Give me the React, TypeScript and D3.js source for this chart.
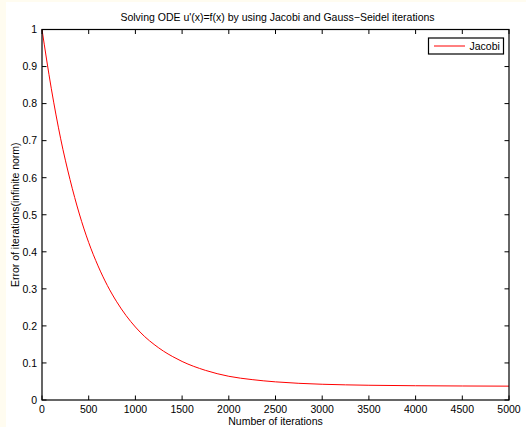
import React from "react";
import * as d3 from "d3";

// Iteration counts where the error was sampled
const iterations = [
  0, 100, 200, 300, 400, 500, 600, 700, 800, 900, 1000, 1100, 1200, 1300, 1400,
  1500, 1750, 2000, 2250, 2500, 2750, 3000, 3500, 4000, 4500, 5000,
];
// Infinity-norm error of the Jacobi iterates
const jacobiError = [
  1.0, 0.84, 0.705, 0.595, 0.502, 0.425, 0.362, 0.309, 0.265, 0.228, 0.197,
  0.171, 0.15, 0.132, 0.117, 0.104, 0.08, 0.064, 0.055, 0.049, 0.045, 0.0425,
  0.0398, 0.0385, 0.0378, 0.0374,
];
const xTicks = [0, 500, 1000, 1500, 2000, 2500, 3000, 3500, 4000, 4500, 5000];
const yTicks = [0, 0.1, 0.2, 0.3, 0.4, 0.5, 0.6, 0.7, 0.8, 0.9, 1];

const W = 526;
const H = 427;
const left = 42;
const right = 509;
const top = 29.5;
const bottom = 400;
const font = "'Liberation Sans', Arial, Helvetica, sans-serif";
const tickLen = 4.5;

export default function App() {
  const x = d3.scaleLinear().domain([0, 5000]).range([left, right]);
  const y = d3.scaleLinear().domain([0, 1]).range([bottom, top]);
  const pts: [number, number][] = iterations.map((n, i) => [n, jacobiError[i]]);
  const line = d3
    .line<[number, number]>()
    .x((d) => x(d[0]))
    .y((d) => y(d[1]))
    .curve(d3.curveMonotoneX);

  return (
    <div style={{ position: "fixed", left: 0, top: 0 }}>
      <svg width={W} height={H} style={{ display: "block" }}>
        <rect x={0} y={0} width={W} height={H} fill="#ffffff" />
        <rect x={0} y={0} width={6} height={H} fill="#fffcf0" />
        <rect x={0} y={0} width={W} height={2} fill="#fffcf0" />

        <text
          x={(left + right) / 2 + 2}
          y={21}
          textAnchor="middle"
          fontFamily={font}
          fontSize={10.5}
          fill="#000"
        >
          Solving ODE u'(x)=f(x) by using Jacobi and Gauss−Seidel iterations
        </text>

        {/* data */}
        <path d={line(pts) ?? ""} fill="none" stroke="#ff0000" strokeWidth={1} />

        {/* ticks on all four sides, pointing inward */}
        {xTicks.map((t) => (
          <g key={"x" + t}>
            <line x1={x(t)} x2={x(t)} y1={bottom} y2={bottom - tickLen} stroke="#000" />
            <line x1={x(t)} x2={x(t)} y1={top} y2={top + tickLen} stroke="#000" />
            <text
              x={x(t)}
              y={413}
              textAnchor="middle"
              fontFamily={font}
              fontSize={10.5}
              fill="#000"
            >
              {t}
            </text>
          </g>
        ))}
        {yTicks.map((t) => (
          <g key={"y" + t}>
            <line x1={left} x2={left + tickLen} y1={y(t)} y2={y(t)} stroke="#000" />
            <line x1={right} x2={right - tickLen} y1={y(t)} y2={y(t)} stroke="#000" />
            <text
              x={37}
              y={y(t) + 3.8}
              textAnchor="end"
              fontFamily={font}
              fontSize={10.5}
              fill="#000"
            >
              {d3.format("~g")(t)}
            </text>
          </g>
        ))}

        <rect
          x={left}
          y={top}
          width={right - left}
          height={bottom - top}
          fill="none"
          stroke="#000"
          strokeWidth={1.2}
        />

        <text
          x={(left + right) / 2}
          y={425}
          textAnchor="middle"
          fontFamily={font}
          fontSize={10.5}
          fill="#000"
        >
          Number of iterations
        </text>
        <text
          transform={`translate(18.5, ${(top + bottom) / 2}) rotate(-90)`}
          textAnchor="middle"
          fontFamily={font}
          fontSize={10.5}
          fill="#000"
        >
          Error of iterations(infinite norm)
        </text>

        {/* legend */}
        <rect x={428.5} y={38} width={75} height={16} fill="#fff" stroke="#000" strokeWidth={1.2} />
        <line x1={434} x2={465} y1={46} y2={46} stroke="#ff0000" strokeWidth={1} />
        <text x={469.5} y={50} fontFamily={font} fontSize={10.5} fill="#000">
          Jacobi
        </text>
      </svg>
    </div>
  );
}
